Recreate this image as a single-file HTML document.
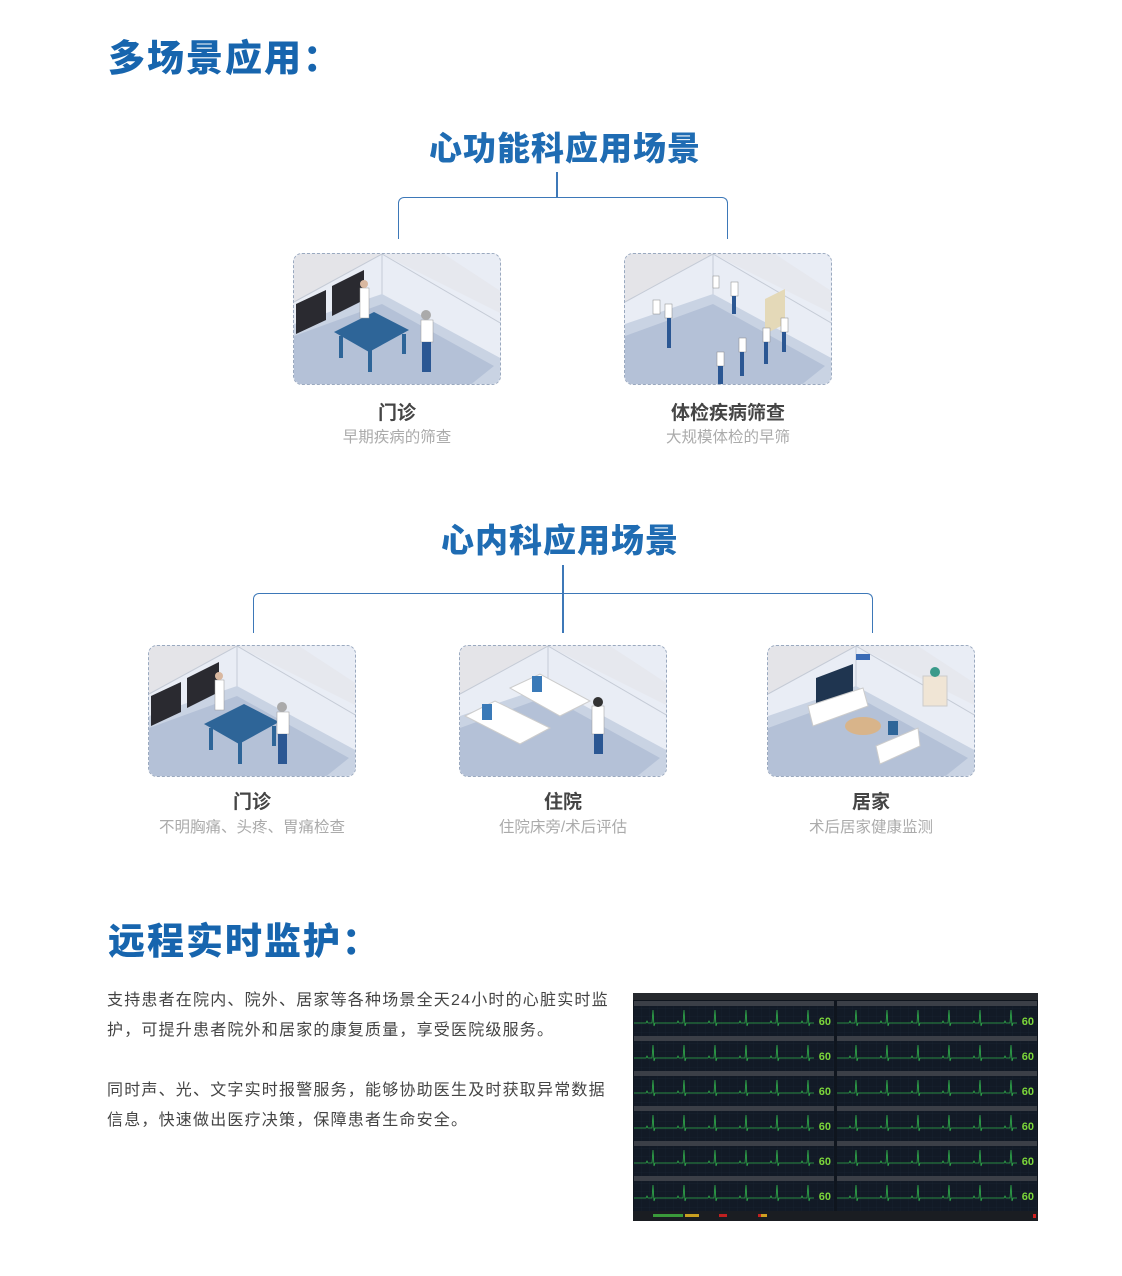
<!DOCTYPE html>
<html><head><meta charset="utf-8">
<style>
*{margin:0;padding:0;box-sizing:border-box}
body{width:1122px;height:1276px;background:#fff;position:relative;overflow:hidden;font-family:"Liberation Sans","Noto Sans CJK SC",sans-serif}
.abs{position:absolute}
.h1{font-size:37px;font-weight:900;color:#1765ae;letter-spacing:2px}
.h2{font-size:33px;font-weight:900;color:#1f6cb3;text-align:center;width:400px;letter-spacing:1px}
.line{position:absolute;background:#3d78b8}
.box{position:absolute;width:208px;height:132px;border:1px dashed #9aa9bf;border-radius:9px;overflow:hidden;background:#eceff5}
.lab{position:absolute;width:260px;text-align:center;font-size:19px;font-weight:700;color:#454545}
.sub{position:absolute;width:260px;text-align:center;font-size:15.5px;color:#ababab}
.p{font-size:16px;color:#444;line-height:30px;width:505px;letter-spacing:1.2px}
</style></head><body>

<div class="abs h1" style="left:108px;top:28px">多场景应用：</div>
<div class="abs h2" style="left:365px;top:122px">心功能科应用场景</div>

<div class="line" style="left:556px;top:172px;width:1.5px;height:26px"></div>
<div class="abs" style="left:398px;top:197px;width:330px;height:42px;border:1.5px solid #3d78b8;border-bottom:none;border-radius:6px 6px 0 0"></div>

<svg width="0" height="0" style="position:absolute">
<defs>
<g id="room">
<rect width="208" height="132" fill="#e9edf5"/>
<polygon points="0,0 88,0 0,48" fill="#e4e4e8"/>
<polygon points="88,0 150,0 208,38 208,60 88,0" fill="#e6e8ee"/>
<line x1="88" y1="0" x2="88" y2="55" stroke="#c5cbd6"/>
<line x1="88" y1="0" x2="208" y2="70" stroke="#c5cbd6"/>
<line x1="88" y1="0" x2="0" y2="48" stroke="#c5cbd6"/>
<polygon points="0,70 88,40 208,105 208,132 0,132" fill="#c9d3e3"/>
<polygon points="0,82 88,50 200,112 175,132 0,132" fill="#b4c1d7"/>
</g>
</defs>
</svg>

<div class="box" style="left:293px;top:253px"><svg width="208" height="132"><use href="#room"/>
<polygon points="2,50 32,36 32,66 2,80" fill="#2a2a30"/><polygon points="38,32 70,16 70,46 38,62" fill="#2a2a30"/>
<polygon points="40,78 80,58 115,76 75,98" fill="#2e6598"/><rect x="45" y="82" width="4" height="22" fill="#2e6598"/><rect x="74" y="96" width="4" height="22" fill="#2e6598"/><rect x="108" y="80" width="4" height="20" fill="#2e6598"/>
<rect x="66" y="34" width="9" height="30" fill="#fff" stroke="#999" stroke-width=".5"/><circle cx="70" cy="30" r="4" fill="#d9b8a0"/>
<rect x="127" y="66" width="12" height="22" fill="#fff" stroke="#999" stroke-width=".5"/><rect x="128" y="88" width="9" height="30" fill="#2b5793"/><circle cx="132" cy="61" r="5" fill="#aaa"/>
</svg></div>

<div class="box" style="left:624px;top:253px"><svg width="208" height="132"><use href="#room"/>
<polygon points="140,45 160,35 160,70 140,80" fill="#e4d9b8"/>
<g fill="#fff" stroke="#888" stroke-width=".5"><rect x="28" y="46" width="7" height="14"/><rect x="40" y="50" width="7" height="14"/><rect x="88" y="22" width="6" height="12"/><rect x="106" y="28" width="7" height="14"/><rect x="92" y="98" width="7" height="14"/><rect x="114" y="84" width="7" height="14"/><rect x="138" y="74" width="7" height="14"/><rect x="156" y="64" width="7" height="14"/></g>
<g fill="#2b5793"><rect x="42" y="64" width="4" height="30"/><rect x="107" y="42" width="4" height="18"/><rect x="93" y="112" width="5" height="20"/><rect x="115" y="98" width="4" height="24"/><rect x="139" y="88" width="4" height="22"/><rect x="157" y="78" width="4" height="20"/></g>
</svg></div>

<div class="lab" style="left:267px;top:398px">门诊</div>
<div class="sub" style="left:267px;top:425px">早期疾病的筛查</div>
<div class="lab" style="left:598px;top:398px">体检疾病筛查</div>
<div class="sub" style="left:598px;top:425px">大规模体检的早筛</div>

<div class="abs h2" style="left:360px;top:514px">心内科应用场景</div>
<div class="line" style="left:562px;top:565px;width:1.5px;height:68px"></div>
<div class="abs" style="left:253px;top:593px;width:620px;height:40px;border:1.5px solid #3d78b8;border-bottom:none;border-radius:6px 6px 0 0"></div>

<div class="box" style="left:148px;top:645px"><svg width="208" height="132"><use href="#room"/>
<polygon points="2,50 32,36 32,66 2,80" fill="#2a2a30"/><polygon points="38,32 70,16 70,46 38,62" fill="#2a2a30"/>
<polygon points="55,78 95,58 130,76 90,98" fill="#2e6598"/><rect x="60" y="82" width="4" height="22" fill="#2e6598"/><rect x="89" y="96" width="4" height="22" fill="#2e6598"/><rect x="123" y="80" width="4" height="20" fill="#2e6598"/>
<rect x="66" y="34" width="9" height="30" fill="#fff" stroke="#999" stroke-width=".5"/><circle cx="70" cy="30" r="4" fill="#d9b8a0"/>
<rect x="128" y="66" width="12" height="22" fill="#fff" stroke="#999" stroke-width=".5"/><rect x="129" y="88" width="9" height="30" fill="#2b5793"/><circle cx="133" cy="61" r="5" fill="#aaa"/>
</svg></div>

<div class="box" style="left:459px;top:645px"><svg width="208" height="132"><use href="#room"/>
<polygon points="5,70 35,55 90,82 60,98" fill="#fff" stroke="#ccc"/><polygon points="50,42 80,28 130,55 100,70" fill="#fff" stroke="#ccc"/>
<rect x="22" y="58" width="10" height="16" fill="#3a7ab8"/><rect x="72" y="30" width="10" height="16" fill="#3a7ab8"/>
<rect x="132" y="60" width="12" height="28" fill="#fff" stroke="#999" stroke-width=".5"/><rect x="134" y="88" width="9" height="20" fill="#2b5793"/><circle cx="138" cy="56" r="5" fill="#333"/>
</svg></div>

<div class="box" style="left:767px;top:645px"><svg width="208" height="132"><use href="#room"/>
<polygon points="48,32 85,18 85,48 48,62" fill="#1f3550"/><polygon points="40,60 95,42 100,60 45,80" fill="#fff" stroke="#ccc"/>
<ellipse cx="95" cy="80" rx="18" ry="9" fill="#d8b48a"/>
<polygon points="108,100 150,82 152,100 112,118" fill="#fff" stroke="#ccc"/><rect x="120" y="75" width="10" height="14" fill="#2e6598"/>
<rect x="88" y="8" width="14" height="6" fill="#3a6bb5"/><rect x="155" y="30" width="24" height="30" fill="#f0e5d5" stroke="#ccc"/><circle cx="167" cy="26" r="5" fill="#3a9a8a"/>
</svg></div>

<div class="lab" style="left:122px;top:787px">门诊</div>
<div class="sub" style="left:122px;top:815px">不明胸痛、头疼、胃痛检查</div>
<div class="lab" style="left:433px;top:787px">住院</div>
<div class="sub" style="left:433px;top:815px">住院床旁/术后评估</div>
<div class="lab" style="left:741px;top:787px">居家</div>
<div class="sub" style="left:741px;top:815px">术后居家健康监测</div>

<div class="abs h1" style="left:108px;top:911px">远程实时监护：</div>
<div class="abs p" style="left:107px;top:986px">支持患者在院内、院外、居家等各种场景全天24小时的心脏实时监护，可提升患者院外和居家的康复质量，享受医院级服务。</div>
<div class="abs p" style="left:107px;top:1076px">同时声、光、文字实时报警服务，能够协助医生及时获取异常数据信息，快速做出医疗决策，保障患者生命安全。</div>

<svg class="abs" style="left:633px;top:993px" width="405" height="228" viewBox="0 0 405 228">
<defs>
<pattern id="ecg" x="0" y="5" width="31" height="30" patternUnits="userSpaceOnUse">
<path d="M0 17 H12 L13 15 L14 17 H18 L19 4 L20 20 L21 17 H31" stroke="#2fae4a" stroke-width="0.8" fill="none"/>
</pattern>
<pattern id="grid" width="8" height="8" patternUnits="userSpaceOnUse"><path d="M8 0V8H0" stroke="#1c2634" stroke-width=".5" fill="none"/></pattern>
<g id="cell">
<rect width="200" height="35" fill="#121a26"/>
<rect width="200" height="5" fill="#3b3f47"/>
<rect y="5" width="200" height="30" fill="url(#grid)"/>
<rect y="5" width="180" height="30" fill="url(#ecg)"/>
<text x="197" y="24" font-size="11" font-weight="700" fill="#7bd63a" text-anchor="end" font-family="Liberation Sans">60</text>
</g>
</defs>
<rect width="405" height="228" fill="#0f151e"/>
<rect width="405" height="7" fill="#26292e"/>
<g>
<use href="#cell" x="1" y="8"/><use href="#cell" x="204" y="8"/>
<use href="#cell" x="1" y="43"/><use href="#cell" x="204" y="43"/>
<use href="#cell" x="1" y="78"/><use href="#cell" x="204" y="78"/>
<use href="#cell" x="1" y="113"/><use href="#cell" x="204" y="113"/>
<use href="#cell" x="1" y="148"/><use href="#cell" x="204" y="148"/>
<use href="#cell" x="1" y="183"/><use href="#cell" x="204" y="183"/>
</g>
<rect y="218" width="405" height="10" fill="#1a1d22"/>
<rect x="20" y="221" width="30" height="3" fill="#3a9a3a"/><rect x="52" y="221" width="14" height="3" fill="#c9a020"/><rect x="86" y="221" width="8" height="3" fill="#c02020"/><rect x="125" y="221" width="8" height="3" fill="#c02020"/><rect x="128" y="221" width="6" height="3" fill="#d0a020"/>
<rect x="400" y="221" width="3" height="4" fill="#d02020"/>
</svg>
</body></html>
